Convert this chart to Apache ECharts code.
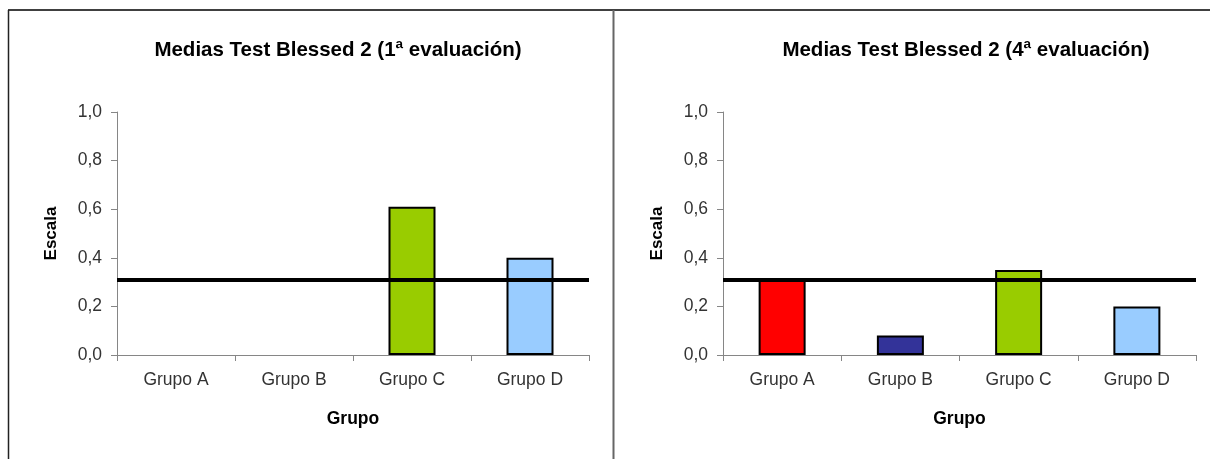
<!DOCTYPE html>
<html>
<head>
<meta charset="utf-8">
<script src="https://cdn.jsdelivr.net/npm/echarts@6/dist/echarts.min.js"></script>
<style>
  html, body { margin: 0; padding: 0; background: #fff; }
  #chart { width: 1210px; height: 459px; }
</style>
</head>
<body>
<div id="chart"></div>
<script>
// Groups and mean scores for the two evaluations
const categories = ['Grupo A', 'Grupo B', 'Grupo C', 'Grupo D'];
const eval1Values = [0, 0, 0.61, 0.40];
const eval4Values = [0.31, 0.08, 0.35, 0.20];
const referenceLevel = 0.31;
const groupColors = ['#FF0000', '#333399', '#99CC00', '#99CCFF'];
const yTicks = { min: 0, max: 1, interval: 0.2 };
const titles = ['Medias Test Blessed 2 (1ª evaluación)', 'Medias Test Blessed 2 (4ª evaluación)'];

const FONT = 'Liberation Sans, Arial, sans-serif';
const axisGray = '#868686';

function xAxisFor(gridIndex) {
  return {
    type: 'category', gridIndex, data: categories,
    name: 'Grupo', nameLocation: 'middle', nameGap: 55,
    nameTextStyle: { fontFamily: FONT, fontSize: 17.5, fontWeight: 'bold', color: '#000' },
    axisLine: { lineStyle: { color: axisGray, width: 1 } },
    axisTick: { show: true, alignWithLabel: false, length: 6, lineStyle: { color: axisGray } },
    axisLabel: { fontFamily: FONT, fontSize: 17.5, color: '#333', margin: 16 },
    splitLine: { show: false }
  };
}
function yAxisFor(gridIndex) {
  return {
    type: 'value', gridIndex, min: yTicks.min, max: yTicks.max, interval: yTicks.interval,
    name: 'Escala', nameLocation: 'middle', nameGap: 57, nameRotate: 90,
    nameTextStyle: { fontFamily: FONT, fontSize: 17, fontWeight: 'bold', color: '#000' },
    axisLine: { show: true, lineStyle: { color: axisGray, width: 1 } },
    axisTick: { show: true, length: 6, lineStyle: { color: axisGray } },
    axisLabel: { fontFamily: FONT, fontSize: 17.5, color: '#333', margin: 15,
      formatter: v => v.toFixed(1).replace('.', ',') },
    splitLine: { show: false }
  };
}
function barSeries(idx, values) {
  return {
    type: 'bar', xAxisIndex: idx, yAxisIndex: idx,
    // a zero mean leaves no visible bar
    data: values.map((v, i) => ({
      value: v,
      itemStyle: { color: groupColors[i], borderWidth: v === 0 ? 0 : 2 }
    })),
    barWidth: 47,
    itemStyle: { borderColor: '#000', borderWidth: 2 },
    emphasis: { disabled: true },
    markLine: {
      silent: true, symbol: 'none', label: { show: false },
      lineStyle: { color: '#000', width: 4, type: 'solid' },
      data: [{ yAxis: referenceLevel }]
    },
    z: 2
  };
}

const chart = echarts.init(document.getElementById('chart'), null, { renderer: 'canvas' });
chart.setOption({
  animation: false,
  backgroundColor: '#fff',
  title: [
    { text: titles[0], left: 333, top: 35, textAlign: 'center',
      textStyle: { fontFamily: FONT, fontSize: 20.5, fontWeight: 'bold', color: '#000' } },
    { text: titles[1], left: 961, top: 35, textAlign: 'center',
      textStyle: { fontFamily: FONT, fontSize: 20.5, fontWeight: 'bold', color: '#000' } }
  ],
  grid: [
    { left: 117, top: 112, width: 472, height: 243 },
    { left: 723, top: 112, width: 473, height: 243 }
  ],
  xAxis: [xAxisFor(0), xAxisFor(1)],
  yAxis: [yAxisFor(0), yAxisFor(1)],
  series: [barSeries(0, eval1Values), barSeries(1, eval4Values)],
  graphic: [
    { type: 'line', shape: { x1: 8, y1: 10, x2: 1210, y2: 10 }, style: { stroke: '#000', lineWidth: 1.5 } },
    { type: 'line', shape: { x1: 8.5, y1: 10, x2: 8.5, y2: 459 }, style: { stroke: '#222', lineWidth: 1.5 } },
    { type: 'line', shape: { x1: 613.5, y1: 10, x2: 613.5, y2: 459 }, style: { stroke: '#666', lineWidth: 2 } }
  ]
});
</script>
</body>
</html>
